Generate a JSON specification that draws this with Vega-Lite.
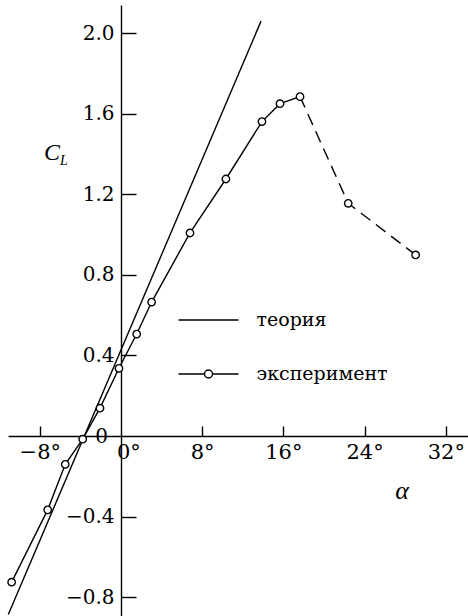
{
  "$schema": "https://vega.github.io/schema/vega-lite/v6.json",
  "width": 460,
  "height": 611,
  "padding": {"left": 8, "top": 5, "right": 0, "bottom": 0},
  "autosize": {"type": "none"},
  "background": "white",
  "config": {"view": {"stroke": null}, "font": "DejaVu Serif"},
  "datasets": {
    "theory": [
      {"alpha": -11.1, "cl": -0.887, "series": "теория"},
      {"alpha": 13.8, "cl": 2.06, "series": "теория"}
    ],
    "exp": [
      {"alpha": -10.77, "cl": -0.726, "series": "эксперимент"},
      {"alpha": -7.22, "cl": -0.367, "series": "эксперимент"},
      {"alpha": -5.49, "cl": -0.141, "series": "эксперимент"},
      {"alpha": -3.77, "cl": -0.016, "series": "эксперимент"},
      {"alpha": -2.07, "cl": 0.138, "series": "эксперимент"},
      {"alpha": -0.2, "cl": 0.336, "series": "эксперимент"},
      {"alpha": 1.55, "cl": 0.506, "series": "эксперимент"},
      {"alpha": 3.02, "cl": 0.665, "series": "эксперимент"},
      {"alpha": 6.8, "cl": 1.008, "series": "эксперимент"},
      {"alpha": 10.34, "cl": 1.276, "series": "эксперимент"},
      {"alpha": 13.89, "cl": 1.561, "series": "эксперимент"},
      {"alpha": 15.67, "cl": 1.65, "series": "эксперимент"},
      {"alpha": 17.64, "cl": 1.685, "series": "эксперимент"},
      {"alpha": 22.39, "cl": 1.155, "series": "эксперимент"},
      {"alpha": 29.03, "cl": 0.899, "series": "эксперимент"}
    ]
  },
  "layer": [
    {
      "data": {"name": "theory"},
      "mark": {"type": "line", "strokeWidth": 1.4},
      "encoding": {
        "x": {
          "field": "alpha", "type": "quantitative",
          "scale": {"domain": [-11.13, 34.19], "nice": false, "zero": false},
          "axis": {
            "values": [-8, 8, 16, 24, 32],
            "labelExpr": "format(datum.value, 'd') + '°'",
            "offset": -180, "tickSize": -10, "tickColor": "black", "tickWidth": 1.4,
            "domainColor": "black", "domainWidth": 1.4, "grid": false, "title": null,
            "labelFontSize": 21, "labelColor": "black", "labelPadding": 15,
            "labelFont": "DejaVu Serif", "labelOverlap": false, "labelFlush": false
          }
        },
        "y": {
          "field": "cl", "type": "quantitative",
          "scale": {"domain": [-0.894, 2.14], "nice": false, "zero": false},
          "axis": {
            "values": [-0.8, -0.4, 0.4, 0.8, 1.2, 1.6, 2.0],
            "labelExpr": "format(datum.value, '.1f')",
            "offset": -113, "tickSize": -15, "tickColor": "black", "tickWidth": 1.4,
            "domainColor": "black", "domainWidth": 1.4, "grid": false, "title": null,
            "labelFontSize": 20, "labelColor": "black", "labelPadding": 22,
            "labelFont": "DejaVu Serif", "labelOverlap": false, "labelFlush": false
          }
        },
        "color": {
          "field": "series", "type": "nominal",
          "scale": {"domain": ["теория", "эксперимент"], "range": ["black", "black"]},
          "legend": {
            "orient": "none", "legendX": 174.5, "legendY": 289, "title": null,
            "symbolSize": 2500, "symbolStrokeWidth": 1.4, "symbolStrokeColor": "black",
            "symbolFillColor": "white", "labelFontSize": 19, "labelFont": "DejaVu Serif",
            "labelOffset": 22, "rowPadding": 18, "padding": 0, "labelColor": "black",
            "encode": {
              "symbols": {
                "update": {
                  "shape": {"signal": "datum.value === 'теория' ? 'M-1.2,0H1.2' : 'M-1.2,0H-0.16M0.16,0H1.2M-0.16,0A0.16,0.16,0,1,0,0.16,0A0.16,0.16,0,1,0,-0.16,0'"},
                  "fill": {"value": "white"},
                  "stroke": {"value": "black"},
                  "strokeWidth": {"value": 1.4}
                }
              }
            }
          }
        }
      }
    },
    {
      "data": {"name": "exp"},
      "transform": [{"filter": "datum.alpha <= 17.7"}],
      "mark": {"type": "line", "strokeWidth": 1.4},
      "encoding": {
        "x": {"field": "alpha", "type": "quantitative"},
        "y": {"field": "cl", "type": "quantitative"},
        "color": {"field": "series", "type": "nominal"}
      }
    },
    {
      "data": {"name": "exp"},
      "transform": [{"filter": "datum.alpha >= 17.6"}],
      "mark": {"type": "line", "strokeWidth": 1.4, "strokeDash": [12, 7]},
      "encoding": {
        "x": {"field": "alpha", "type": "quantitative"},
        "y": {"field": "cl", "type": "quantitative"},
        "color": {"field": "series", "type": "nominal"}
      }
    },
    {
      "data": {"name": "exp"},
      "mark": {"type": "point", "filled": false, "fill": "white", "size": 55, "strokeWidth": 1.4, "opacity": 1},
      "encoding": {
        "x": {"field": "alpha", "type": "quantitative"},
        "y": {"field": "cl", "type": "quantitative"},
        "color": {"field": "series", "type": "nominal"}
      }
    },
    {
      "data": {"values": [{"t": "0"}]},
      "mark": {"type": "text", "font": "DejaVu Serif", "fontSize": 20, "color": "black", "align": "right", "baseline": "middle", "dx": -13, "dy": 1},
      "encoding": {"text": {"field": "t"}, "x": {"datum": 0}, "y": {"datum": 0}}
    },
    {
      "data": {"values": [{"t": "0°"}]},
      "mark": {"type": "text", "font": "DejaVu Serif", "fontSize": 21, "color": "black", "align": "left", "baseline": "top", "dx": -4, "dy": 6},
      "encoding": {"text": {"field": "t"}, "x": {"datum": 0}, "y": {"datum": 0}}
    },
    {
      "data": {"values": [{"t": "C"}]},
      "mark": {"type": "text", "font": "Liberation Serif", "fontStyle": "italic", "fontSize": 24, "color": "black"},
      "encoding": {"text": {"field": "t"}, "x": {"datum": -6.8}, "y": {"datum": 1.405}}
    },
    {
      "data": {"values": [{"t": "L"}]},
      "mark": {"type": "text", "font": "Liberation Serif", "fontStyle": "italic", "fontSize": 14, "color": "black"},
      "encoding": {"text": {"field": "t"}, "x": {"datum": -5.62}, "y": {"datum": 1.365}}
    },
    {
      "data": {"values": [{"t": "α"}]},
      "mark": {"type": "text", "font": "Liberation Serif", "fontStyle": "italic", "fontSize": 26, "color": "black"},
      "encoding": {"text": {"field": "t"}, "x": {"datum": 27.7}, "y": {"datum": -0.273}}
    }
  ]
}
